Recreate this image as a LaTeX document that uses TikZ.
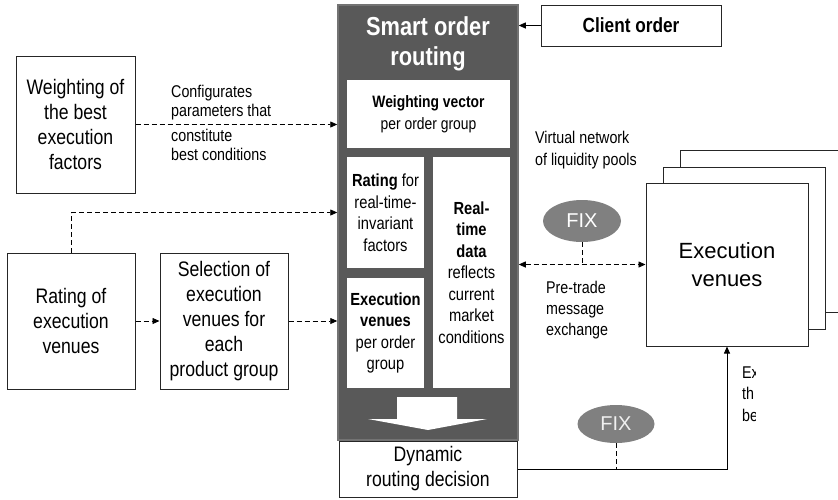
\documentclass[tikz,border=0pt]{standalone}
\usepackage{fontspec}
\setmainfont{Liberation Sans}[FakeStretch=0.84]
\newfontfamily\widefont{Liberation Sans}
\usetikzlibrary{positioning,shapes.geometric,arrows.meta}

\definecolor{routegray}{HTML}{595959}
\definecolor{fixgray}{HTML}{808080}

\begin{document}
\begin{tikzpicture}[x = 1pt, y = -1pt,
  box/.style = {draw = black!85, fill = white, line width = 1pt, shape = rectangle, align = center, inner sep = 0pt},
  inbox/.style = {fill = white, shape = rectangle, align = center, inner sep = 0pt, font = \fontsize{17.5}{21.5}\selectfont},
  big/.style = {font = \fontsize{21}{25}\selectfont},
  lbl/.style = {align = left, inner sep = 0pt, anchor = west, font = \fontsize{17}{19}\selectfont},
  fix/.style = {shape = ellipse, fill = fixgray, inner sep = 0pt, font = \widefont\fontsize{20}{22}\selectfont},
  dashline/.style = {dash pattern = on 5pt off 3pt, line width = 0.8pt},
  link/.style = {dashline, -{Triangle[length = 7pt, width = 6pt]}},
  twolink/.style = {dashline, {Triangle[length = 7pt, width = 6pt]}-{Triangle[length = 7pt, width = 6pt]}},
  solidlink/.style = {line width = 0.8pt, -{Triangle[length = 7pt, width = 6pt]}}]
\clip (0,0) rectangle (838,499);

% left side
\node[box, big, minimum width = 119, minimum height = 137] (1) at (75.5,124.5) {Weighting of\\the best\\execution\\factors};
\node[box, big, minimum width = 128, minimum height = 136] (2) at (71,321) {Rating of\\execution\\venues};
\node[box, big, minimum width = 128, minimum height = 136] (3) at (224,321) {Selection of\\execution\\venues for\\each\\product group};

% smart order routing
\node[fill = routegray, draw = black!55, line width = 1.5pt, minimum width = 180, minimum height = 435] (10) at (428,222.5) {};
\node[text = white, align = center, font = \bfseries\fontsize{26}{30}\selectfont] (11) at (428,44) {Smart order\\routing};
\node[inbox, font = \fontsize{16.5}{22}\selectfont, minimum width = 163, minimum height = 68] (12) at (428.5,114) {\textbf{Weighting vector}\\per order group};
\node[inbox, minimum width = 77, minimum height = 111] (13) at (385.5,212.5) {\textbf{Rating} for\\real-time-\\invariant\\factors};
\node[inbox, minimum width = 77, minimum height = 231] (14) at (471.5,272.5) {\textbf{Real-}\\\textbf{time}\\\textbf{data}\\reflects\\current\\market\\conditions};
\node[inbox, minimum width = 77, minimum height = 110] (15) at (385.5,333) {\textbf{Execution}\\\textbf{venues}\\per order\\group};
\fill[white] (397,397) -- (457,397) -- (457,419) -- (487,419) -- (428,430) -- (368,419) -- (397,419) -- cycle;
\node[box, big, minimum width = 178, minimum height = 56] (8) at (428,469) {Dynamic\\routing decision};

% right side
\node[box, font = \bfseries\fontsize{20.5}{24}\selectfont, minimum width = 180, minimum height = 41] (4) at (631,25.5) {Client order};
\node[box, minimum width = 170, minimum height = 162] (6) at (765,231) {};
\node[box, minimum width = 162, minimum height = 162] (7a) at (744,248) {};
\node[box, font = \widefont\fontsize{22}{28}\selectfont, minimum width = 162, minimum height = 163] (7) at (727,264.5) {Execution\\venues};
\node[fix, text = white, minimum width = 78, minimum height = 42] (5) at (582,221) {FIX};
\node[fix, text = white!88!gray, minimum width = 77, minimum height = 38] (9) at (616,424) {FIX};

% labels
\node[lbl] (17) at (171,103) {Configurates\\parameters that};
\node[lbl] (18) at (171,144.5) {constitute\\best conditions};
\node[lbl, font = \fontsize{17}{22}\selectfont] (19) at (535,150) {Virtual network\\of liquidity pools};
\node[lbl, font = \fontsize{17}{21}\selectfont] (20) at (546,310) {Pre-trade\\message\\exchange};
\begin{scope}
\clip (736,355) rectangle (755,432);
\node[lbl, font = \fontsize{17}{21.5}\selectfont] (21) at (742,394) {Ex\\th\\be};
\end{scope}

% connectors
\draw[link] (1.east) -- (1.east -| 10.west);
\draw[link] (2.north) |- (13.west -| 10.west);
\draw[link] (2.east) -- (3.west);
\draw[link] (3.east) -- (3.east -| 10.west);
\draw[solidlink] (4.west) -- (4.west -| 10.east);
\draw[twolink] (7.west -| 10.east) -- (7.west);
\draw[dashline] (5.south) -- (5.south |- 7.west);
\draw[solidlink] (8.east) -| (7.south);
\draw[dashline] (9.south) -- (9.south |- 8.east);
\end{tikzpicture}
\end{document}
